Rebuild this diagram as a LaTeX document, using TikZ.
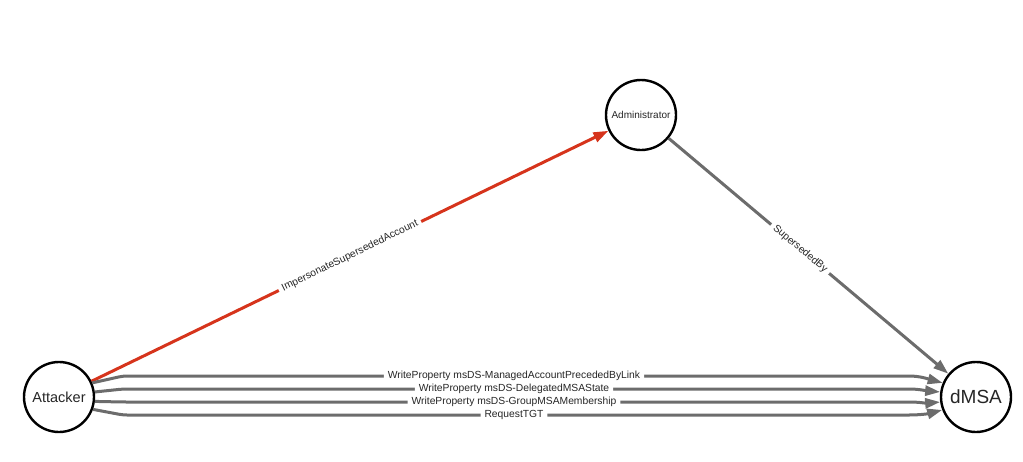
\documentclass[tikz,border=0pt]{standalone}
\usepackage{fontspec}
\setmainfont{Liberation Sans}
\usetikzlibrary{arrows.meta}
\definecolor{edgegray}{RGB}{108,108,108}
\definecolor{attackred}{RGB}{214,52,28}
\tikzset{
  account/.style={circle, draw=black, line width=2.4pt, fill=white,
    minimum size=70pt, inner sep=0pt, text=black!85},
  edge/.style={draw=edgegray, line width=3pt, rounded corners=4pt,
    -{Triangle[length=15pt,width=10pt]}},
  attack/.style={edge, draw=attackred},
  lbl/.style={fill=white, inner xsep=4pt, inner ysep=1pt, text=black!85,
    font=\fontsize{10.3}{12}\selectfont},
}
\begin{document}
\begin{tikzpicture}[x=1pt, y=-1pt]
  \useasboundingbox (0,0) rectangle (1023,461);
  \node[account, font=\fontsize{14.5}{16}\selectfont] (att) at (59,397) {Attacker};
  \node[account, font=\fontsize{10}{11}\selectfont] (adm) at (641,115) {Administrator};
  \node[account, font=\fontsize{19}{22}\selectfont] (dmsa) at (976,397) {dMSA};
  \begin{scope}
    \draw[attack] (att) -- node[lbl, sloped] {ImpersonateSupersededAccount} (adm);
    \draw[edge] (adm) -- node[lbl, sloped, pos=0.47] {SupersededBy} (dmsa);
    \draw[edge] (att.23) -- (123,376)
      -- node[lbl] {WriteProperty msDS-ManagedAccountPrecededByLink} (905,376)
      to[out=0, in=165] (dmsa.157);
    \draw[edge] (att.8) -- (123,389)
      -- node[lbl] {WriteProperty msDS-DelegatedMSAState} (905,389)
      to[out=0, in=175] (dmsa.172);
    \draw[edge] (att.353) -- (123,402)
      -- node[lbl] {WriteProperty msDS-GroupMSAMembership} (905,402)
      to[out=0, in=185] (dmsa.188);
    \draw[edge] (att.340) -- (123,415)
      -- node[lbl] {RequestTGT} (905,415)
      to[out=0, in=195] (dmsa.201);
  \end{scope}
\end{tikzpicture}
\end{document}
